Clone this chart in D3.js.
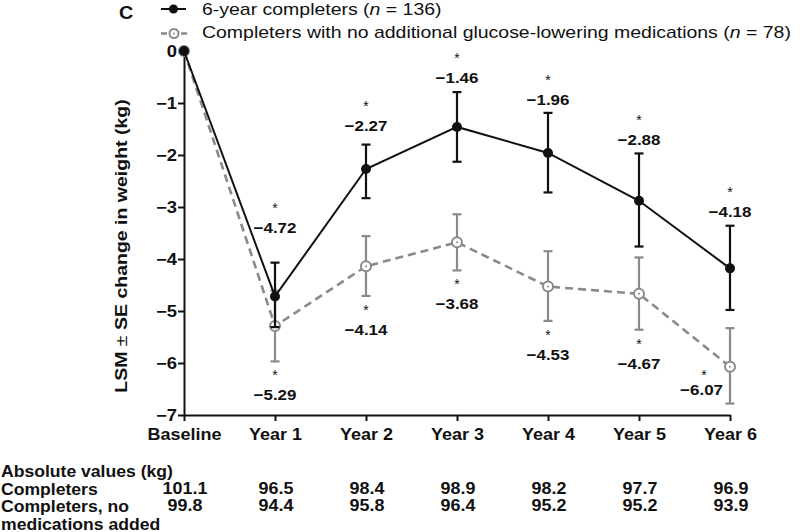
<!DOCTYPE html>
<html><head><meta charset="utf-8">
<script src="https://cdn.jsdelivr.net/npm/d3@7"></script>
<style>
html,body{margin:0;padding:0;background:#fff;}
svg{display:block;font-family:"Liberation Sans",Arial,Helvetica,sans-serif;}
</style></head>
<body><svg id="chart" width="800" height="532"></svg>
<script>
// ---------------- data ----------------
const categories = ["Baseline","Year 1","Year 2","Year 3","Year 4","Year 5","Year 6"];
const completersLSM   = [0,-4.72,-2.27,-1.46,-1.96,-2.88,-4.18];
const completersUpper = [0,-4.07,-1.80,-0.79,-1.19,-1.97,-3.36];
const completersLower = [0,-5.31,-2.83,-2.13,-2.72,-3.76,-4.98];
const noMedLSM   = [0,-5.29,-4.14,-3.68,-4.53,-4.67,-6.07];
const noMedUpper = [0,-4.61,-3.56,-3.14,-3.85,-3.97,-5.33];
const noMedLower = [0,-5.97,-4.71,-4.22,-5.19,-5.36,-6.78];
const significant = [false,true,true,true,true,true,true];
const completersAbs = ["101.1","96.5","98.4","98.9","98.2","97.7","96.9"];
const noMedAbs      = ["99.8","94.4","95.8","96.4","95.2","95.2","93.9"];
const yTicks = [0,-1,-2,-3,-4,-5,-6,-7];
const legendLabels = ["6-year completers", "Completers with no additional glucose-lowering medications"];
const legendN = [136, 78];
const tableTitle = "Absolute values (kg)";
const tableRowLabels = [["Completers"],["Completers, no","medications added"]];

// ---------------- layout / style ----------------
const BLACK = "#111", GRAY = "#8a8a8a";
const blackLabelGap = [0,30,14,9,8,8,9];   // px above upper whisker
const svg = d3.select("#chart");
const x = d3.scalePoint().domain(categories).range([184,730]);
const y = d3.scaleLinear().domain([0,-7]).range([51,415]);
const fmt = v => (v < 0 ? "\u2212" : "") + Math.abs(v).toFixed(2);

function stext(parent, px, py, str, o) {
  o = o || {};
  const g = parent.append("g").attr("transform",
    `translate(${px},${py})` + (o.rotate ? ` rotate(${o.rotate})` : ""));
  const t = g.append("text")
    .attr("transform", `scale(${o.sx || 1},1)`)
    .attr("text-anchor", o.anchor || "start")
    .attr("font-size", o.size || 16)
    .attr("font-weight", o.weight || "bold")
    .attr("fill", o.fill || BLACK);
  if (str !== null) t.text(str);
  return t;
}

// ---------------- axes ----------------
const yAxis = svg.append("g").attr("transform","translate(184,0)")
  .call(d3.axisLeft(y).tickValues(yTicks).tickSize(6).tickSizeOuter(0).tickPadding(1)
    .tickFormat(d => d === 0 ? "0" : "\u2212" + Math.abs(d)));
yAxis.select(".domain").attr("stroke", BLACK).attr("stroke-width", 2);
yAxis.selectAll(".tick line").attr("stroke", BLACK).attr("stroke-width", 2);
yAxis.selectAll(".tick text").attr("font-size",16).attr("font-weight","bold")
  .attr("font-family","Liberation Sans, Arial, sans-serif").attr("fill",BLACK)
  .attr("transform","translate(-7,0) scale(1.15,1)").attr("x",0);

const xAxis = svg.append("g").attr("transform","translate(0,415)")
  .call(d3.axisBottom(x).tickSize(6).tickSizeOuter(0).tickPadding(7));
xAxis.select(".domain").attr("stroke", BLACK).attr("stroke-width", 2);
xAxis.selectAll(".tick line").attr("stroke", BLACK).attr("stroke-width", 2);
xAxis.selectAll(".tick text").attr("font-size",17).attr("font-weight","bold")
  .attr("font-family","Liberation Sans, Arial, sans-serif").attr("fill",BLACK)
  .attr("transform","scale(1.06,1)");

// y-axis title
const yt = stext(svg, 127, 246, null, {rotate:-90, anchor:"middle", size:16, sx:1.22});
yt.append("tspan").text("LSM ");
yt.append("tspan").attr("font-weight","normal").text("\u00b1");
yt.append("tspan").text(" SE change in weight (kg)");

// ---------------- series ----------------
function drawSeries(lsm, up, lo, color, dashed, filled) {
  const g = svg.append("g");
  categories.forEach((c,i) => {
    if (i === 0) return;
    const cx = x(c);
    g.append("line").attr("x1",cx).attr("x2",cx).attr("y1",y(up[i])).attr("y2",y(lo[i]))
      .attr("stroke",color).attr("stroke-width",2.2);
    [up[i], lo[i]].forEach(v => g.append("line").attr("x1",cx-4.5).attr("x2",cx+4.5)
      .attr("y1",y(v)).attr("y2",y(v)).attr("stroke",color).attr("stroke-width",2.2));
  });
  g.append("path").datum(lsm)
    .attr("d", d3.line().x((d,i)=>x(categories[i])).y(d=>y(d)))
    .attr("fill","none").attr("stroke",color).attr("stroke-width", dashed?2.6:2)
    .attr("stroke-dasharray", dashed ? "8,5" : null);
  lsm.forEach((v,i) => {
    const cx = x(categories[i]), cy = y(v);
    if (filled) {
      g.append("circle").attr("cx",cx).attr("cy",cy).attr("r",5).attr("fill",color);
    } else {
      g.append("circle").attr("cx",cx).attr("cy",cy).attr("r",5)
        .attr("fill","#fff").attr("stroke",color).attr("stroke-width",2);
      g.append("circle").attr("cx",cx).attr("cy",cy).attr("r",1).attr("fill",color);
    }
  });
}
drawSeries(noMedLSM, noMedUpper, noMedLower, GRAY, true, false);
drawSeries(completersLSM, completersUpper, completersLower, BLACK, false, true);

// ---------------- value labels ----------------
const lab = svg.append("g");
categories.forEach((c,i) => {
  if (i === 0) return;
  const cx = x(c);
  const by = y(completersUpper[i]) - blackLabelGap[i];
  stext(lab, cx, by, fmt(completersLSM[i]), {anchor:"middle", size:15, sx:1.13});
  if (significant[i]) stext(lab, cx, by-20, "*", {anchor:"middle", size:14, weight:"normal"});
  if (i < categories.length - 1) {
    const gy = y(noMedLower[i]);
    if (significant[i]) stext(lab, cx, gy+19, "*", {anchor:"middle", size:14, weight:"normal"});
    stext(lab, cx, gy+39, fmt(noMedLSM[i]), {anchor:"middle", size:15, sx:1.13});
  } else {
    const gy = y(noMedLSM[i]);
    if (significant[i]) stext(lab, cx-26, gy+13, "*", {anchor:"middle", size:14, weight:"normal"});
    stext(lab, cx-7, gy+28, fmt(noMedLSM[i]), {anchor:"end", size:15, sx:1.13});
  }
});

// ---------------- legend ----------------
const lg = svg.append("g");
stext(lg, 119, 19, "C", {size:18, sx:1.1});
lg.append("line").attr("x1",161).attr("x2",186).attr("y1",9).attr("y2",9).attr("stroke",BLACK).attr("stroke-width",2);
lg.append("circle").attr("cx",173.5).attr("cy",9).attr("r",4.5).attr("fill",BLACK);
lg.append("line").attr("x1",161).attr("x2",188).attr("y1",33.5).attr("y2",33.5).attr("stroke",GRAY)
  .attr("stroke-width",2.4).attr("stroke-dasharray","6,4");
lg.append("circle").attr("cx",174).attr("cy",33.5).attr("r",4.5).attr("fill","#fff").attr("stroke",GRAY).attr("stroke-width",2);
lg.append("circle").attr("cx",174).attr("cy",33.5).attr("r",1).attr("fill",GRAY);
[15, 38].forEach((by,k) => {
  const t = stext(lg, 202, by, null, {size:17, weight:"normal", sx:1.145});
  t.append("tspan").text(legendLabels[k] + " (");
  t.append("tspan").attr("font-style","italic").text("n");
  t.append("tspan").text(" = " + legendN[k] + ")");
});

// ---------------- table ----------------
const tb = svg.append("g");
stext(tb, 1, 477, tableTitle, {size:16, sx:1.1});
stext(tb, 1, 494.5, tableRowLabels[0][0], {size:16, sx:1.1});
stext(tb, 1, 512, tableRowLabels[1][0], {size:16, sx:1.1});
stext(tb, 1, 529.5, tableRowLabels[1][1], {size:16, sx:1.1});
categories.forEach((c,i) => {
  stext(tb, x(c)+1, 493.5, completersAbs[i], {anchor:"middle", size:16, sx:1.12});
  stext(tb, x(c)+1, 511, noMedAbs[i], {anchor:"middle", size:16, sx:1.12});
});
</script></body></html>
